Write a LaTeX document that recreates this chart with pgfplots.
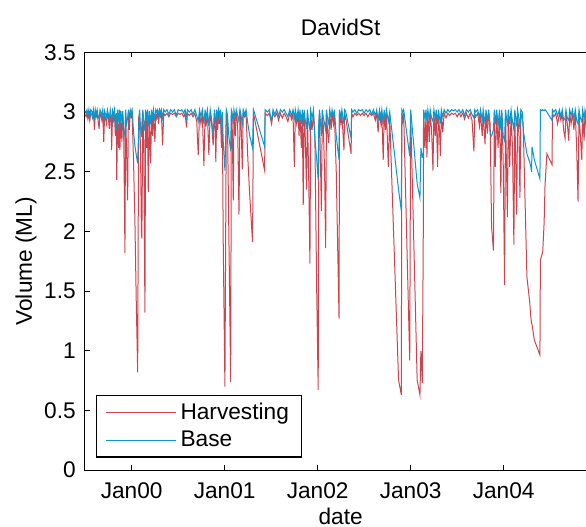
\documentclass[border=0pt]{standalone}
\usepackage{pgfplots}
\pgfplotsset{compat=1.18}
\usepackage{pgfplotstable}
\usepackage{fontspec}
\setmainfont{Liberation Sans}
\definecolor{harv}{RGB}{204,68,80}
\definecolor{basec}{RGB}{10,152,206}
\pgfplotstableread{
t h b
-0.50 2.98 3.01
-0.49 2.96 2.99
-0.48 2.99 3.02
-0.47 2.94 2.97
-0.46 2.99 3.02
-0.45 2.93 2.95
-0.44 2.99 3.02
-0.43 2.98 3.01
-0.42 2.95 2.97
-0.41 2.99 3.02
-0.40 2.85 2.93
-0.39 2.99 3.02
-0.38 2.96 2.98
-0.37 2.99 3.02
-0.36 2.92 2.96
-0.35 2.86 2.94
-0.34 2.99 3.02
-0.33 2.97 3.00
-0.32 2.93 2.97
-0.31 2.99 3.02
-0.30 2.75 2.90
-0.29 2.99 3.01
-0.28 2.94 2.98
-0.27 2.90 2.96
-0.26 2.99 3.02
-0.25 2.95 2.98
-0.24 2.86 2.93
-0.23 2.99 3.02
-0.22 2.90 2.96
-0.215 2.68 2.88
-0.205 2.98 3.01
-0.195 2.93 2.97
-0.185 2.99 3.02
-0.175 2.80 2.90
-0.165 2.96 2.99
-0.16 2.43 2.85
-0.15 2.99 3.02
-0.14 2.70 2.92
-0.13 2.99 3.02
-0.126 2.68 2.86
-0.115 2.98 3.01
-0.105 2.75 2.92
-0.095 2.98 3.01
-0.085 2.85 2.79
-0.072 1.82 2.85
-0.065 2.99 3.02
-0.055 2.70 2.90
-0.043 2.26 2.95
-0.035 2.99 3.02
-0.025 2.85 2.93
-0.015 2.99 3.02
-0.005 2.96 2.99
0.005 2.99 3.02
0.02 2.60 2.84
0.035 2.10 2.72
0.05 1.40 2.64
0.065 0.82 2.57
0.075 2.95 2.85
0.085 2.99 3.02
0.095 2.70 2.88
0.105 2.00 2.79
0.11 1.94 2.90
0.12 2.99 3.02
0.13 2.80 2.93
0.143 1.32 2.84
0.15 2.99 3.02
0.16 2.70 2.93
0.17 2.99 3.02
0.179 2.33 2.88
0.19 2.98 3.01
0.204 2.57 2.90
0.215 2.99 3.02
0.225 2.80 2.94
0.235 2.99 3.02
0.25 2.75 2.92
0.26 2.99 3.02
0.27 2.95 3.00
0.28 2.99 3.02
0.29 2.90 2.97
0.30 2.99 3.02
0.31 2.96 2.99
0.32 2.99 3.02
0.333 2.72 2.95
0.345 2.99 3.02
0.36 2.97 3.00
0.38 2.99 3.02
0.40 2.96 2.98
0.42 2.99 3.02
0.44 2.98 3.00
0.46 2.99 3.02
0.48 2.96 2.97
0.50 2.99 3.02
0.52 2.98 3.01
0.54 2.99 3.02
0.56 2.96 2.99
0.575 2.99 3.02
0.59 2.87 2.95
0.60 2.99 3.02
0.62 2.97 3.00
0.64 2.99 3.02
0.66 2.96 2.98
0.68 2.99 3.02
0.70 2.92 2.97
0.716 2.64 2.92
0.73 2.99 3.02
0.745 2.90 2.96
0.76 2.99 3.02
0.777 2.55 2.90
0.79 2.99 3.02
0.80 2.88 2.95
0.815 2.99 3.02
0.83 2.64 2.88
0.845 2.99 3.02
0.86 2.90 2.94
0.877 2.72 2.80
0.89 2.99 3.02
0.90 2.85 2.93
0.905 2.58 2.90
0.915 2.99 3.02
0.925 2.85 2.95
0.935 2.99 3.02
0.945 2.90 2.96
0.955 2.99 3.02
0.965 2.70 2.85
0.975 2.99 3.00
0.985 1.90 2.75
1.003 0.70 2.51
1.012 2.08 2.80
1.018 2.99 3.02
1.03 2.95 2.98
1.045 2.00 2.80
1.065 0.74 2.67
1.072 2.99 3.02
1.08 2.95 3.00
1.093 2.26 2.90
1.10 2.99 3.02
1.115 2.80 2.95
1.125 2.99 3.02
1.14 2.90 2.97
1.154 2.14 2.92
1.165 2.99 3.02
1.175 2.95 2.98
1.19 2.52 2.90
1.20 2.99 3.02
1.215 2.96 2.98
1.23 2.99 3.02
1.25 2.60 2.90
1.27 2.30 2.80
1.30 1.91 2.70
1.31 2.99 3.02
1.43 2.51 2.71
1.435 2.99 3.02
1.46 2.97 3.00
1.48 2.99 3.02
1.505 2.90 2.92
1.52 2.99 3.02
1.54 2.96 2.98
1.56 2.99 3.02
1.58 2.93 2.97
1.60 2.99 3.02
1.62 2.95 3.00
1.64 2.99 3.02
1.66 2.96 2.99
1.68 2.92 2.96
1.70 2.99 3.02
1.72 2.94 2.97
1.735 2.99 3.02
1.75 2.54 2.95
1.76 2.99 3.02
1.775 2.90 2.95
1.79 2.99 3.02
1.80 2.80 2.92
1.81 2.99 3.02
1.825 2.70 2.90
1.835 2.99 3.02
1.845 2.22 2.88
1.855 2.99 3.02
1.865 2.85 2.94
1.88 2.35 2.86
1.89 2.99 3.02
1.905 2.40 2.90
1.917 1.73 2.85
1.925 2.99 3.02
1.94 2.85 2.95
1.955 2.99 3.02
1.97 2.80 2.78
1.99 1.50 2.60
2.006 0.67 2.43
2.012 2.90 2.90
2.02 2.99 3.02
2.03 2.60 2.92
2.04 2.17 2.80
2.05 2.99 3.02
2.06 2.90 2.96
2.075 2.50 2.90
2.086 1.86 2.85
2.095 2.99 3.02
2.11 2.80 2.93
2.12 2.74 2.90
2.13 2.99 3.02
2.145 2.85 2.95
2.155 2.99 3.02
2.17 2.90 2.96
2.18 2.99 3.02
2.20 2.50 2.80
2.23 1.27 2.60
2.235 2.99 3.02
2.25 2.90 2.95
2.26 2.99 3.02
2.283 2.68 2.90
2.29 2.99 3.02
2.30 2.96 3.01
2.36 2.65 2.78
2.365 2.99 3.02
2.38 2.96 3.00
2.40 2.99 3.02
2.42 2.97 2.99
2.44 2.99 3.02
2.46 2.97 3.01
2.48 2.99 3.02
2.50 2.97 2.99
2.52 2.99 3.02
2.54 2.96 3.00
2.56 2.99 3.02
2.58 2.97 2.98
2.60 2.99 3.02
2.62 2.93 2.97
2.635 2.99 3.02
2.65 2.83 2.93
2.665 2.99 3.02
2.68 2.90 2.95
2.69 2.99 3.02
2.705 2.60 2.90
2.715 2.99 3.02
2.73 2.85 2.93
2.74 2.99 3.02
2.76 2.54 2.92
2.775 2.95 3.00
2.87 0.755 2.35
2.90 0.63 2.17
2.905 2.99 3.02
2.915 2.93 3.00
2.925 2.99 3.02
2.99 0.92 2.63
3.00 2.99 3.02
3.07 0.755 2.40
3.10 0.63 2.28
3.11 1.00 2.70
3.125 0.73 2.62
3.135 1.84 2.62
3.14 2.99 3.02
3.155 2.70 2.95
3.165 2.99 3.02
3.175 2.62 2.92
3.185 2.99 3.02
3.20 2.75 2.93
3.21 2.99 3.02
3.225 2.85 2.95
3.24 2.51 2.92
3.25 2.99 3.02
3.265 2.80 2.94
3.275 2.99 3.02
3.29 2.54 2.90
3.30 2.99 3.02
3.31 2.85 2.95
3.32 2.63 2.92
3.33 2.99 3.02
3.345 2.83 2.96
3.36 2.99 3.02
3.38 2.95 2.99
3.40 2.99 3.02
3.42 2.97 3.00
3.44 2.99 3.02
3.46 2.98 3.01
3.48 2.99 3.02
3.50 2.96 3.00
3.52 2.99 3.02
3.54 2.96 2.99
3.56 2.99 3.02
3.58 2.94 2.97
3.60 2.99 3.02
3.62 2.95 3.00
3.64 2.99 3.02
3.66 2.93 2.98
3.68 2.67 2.95
3.69 2.99 3.02
3.70 2.96 3.00
3.72 2.99 3.02
3.74 2.88 2.95
3.75 2.99 3.02
3.77 2.80 2.93
3.78 2.99 3.02
3.80 2.73 2.90
3.81 2.99 3.02
3.825 2.82 2.93
3.84 2.99 3.02
3.855 2.90 2.81
3.87 2.04 2.80
3.89 1.84 2.85
3.90 2.99 3.02
3.91 2.54 2.90
3.925 2.99 3.02
3.94 2.70 2.88
3.955 2.99 3.02
3.97 2.32 2.85
3.98 2.99 3.02
3.995 2.60 2.80
4.01 1.55 2.76
4.02 2.99 3.02
4.04 2.12 2.88
4.05 2.99 3.02
4.065 2.54 2.90
4.08 2.99 3.02
4.095 2.70 2.92
4.11 1.89 2.85
4.12 2.99 3.02
4.14 2.14 2.88
4.15 2.99 3.02
4.165 2.80 2.94
4.175 2.28 2.86
4.185 2.99 3.02
4.20 2.95 3.00
4.21 2.90 2.85
4.25 1.62 2.65
4.28 1.41 2.58
4.29 1.30 2.55
4.30 1.23 2.50
4.305 1.22 2.71
4.33 1.09 2.60
4.39 0.965 2.44
4.395 1.76 3.02
4.41 1.80 3.01
4.42 1.83 3.02
4.435 2.07 3.01
4.445 2.39 3.02
4.465 2.65 3.00
4.52 2.56 2.93
4.525 2.99 3.02
4.54 2.96 3.00
4.56 2.99 3.02
4.58 2.90 2.97
4.60 2.99 3.02
4.615 2.93 2.96
4.63 2.99 3.02
4.645 2.85 2.93
4.66 2.78 2.95
4.67 2.99 3.02
4.685 2.90 2.95
4.70 2.76 2.93
4.71 2.99 3.02
4.725 2.90 2.97
4.74 2.99 3.02
4.755 2.85 2.94
4.77 2.99 3.02
4.785 2.70 2.93
4.80 2.25 2.90
4.81 2.99 3.02
4.825 2.80 2.95
4.84 2.60 2.92
4.85 2.99 3.02
4.865 2.76 2.94
4.875 2.99 3.02
4.885 2.90 2.98
4.90 2.99 3.02
4.915 2.85 2.95
4.93 2.99 3.02
}\datatable
\begin{document}
\begin{tikzpicture}
\begin{axis}[
  name=ax,
  scale only axis,
  width=384pt, height=313.4pt,
  xmin=-0.505, xmax=5.0,
  ymin=0, ymax=3.5,
  xtick={0,1,2,3,4},
  xticklabels={Jan00,Jan01,Jan02,Jan03,Jan04},
  ytick={0,0.5,1,1.5,2,2.5,3,3.5},
  yticklabels={0,0.5,1,1.5,2,2.5,3,3.5},
  tick align=inside,
  tick pos=both,
  major tick length=3.75pt,
  axis line style={line width=0.9pt},
  every tick/.style={black, line width=0.9pt},
  /pgf/number format/assume math mode=true,
  every tick label/.append style={font=\fontsize{17}{20}\selectfont},
  xticklabel style={anchor=base, yshift=-21pt},
  yticklabel style={anchor=east, inner sep=0pt, xshift=-6.5pt},
  title={DavidSt},
  title style={font=\fontsize{17}{20}\selectfont, at={(axis description cs:0.5,1)}, anchor=base, yshift=6.5pt},
  xlabel={date},
  xlabel style={font=\fontsize{17}{20}\selectfont, at={(axis description cs:0.5,0)}, anchor=base, yshift=-40.5pt},
  ylabel={Volume (ML)},
  ylabel style={font=\fontsize{17}{20}\selectfont, at={(axis description cs:-0.103,0.5)}, anchor=base},
  legend style={at={(axis description cs:0.022,0.030)}, anchor=south west,
    draw=black, line width=0.9pt, font=\fontsize{17}{20}\selectfont,
    inner xsep=6.5pt, inner ysep=2.5pt, row sep=0pt,
    nodes={inner xsep=3.2pt, inner ysep=3.6pt}},
  legend cell align=left,
  legend image code/.code={\draw[#1, line width=0.8pt] (0pt,0pt) -- (52.5pt,0pt);},
]
\addplot[harv, line width=0.75pt] table[x=t, y=h] {\datatable};
\addlegendentry{Harvesting}
\addplot[basec, line width=0.75pt] table[x=t, y=b] {\datatable};
\addlegendentry{Base}
\end{axis}
\pgfresetboundingbox
\path[use as bounding box] ([shift={(-63.5pt,-42.6pt)}]ax.south west) rectangle ([shift={(376pt,352.65pt)}]ax.south west);
\end{tikzpicture}
\end{document}
